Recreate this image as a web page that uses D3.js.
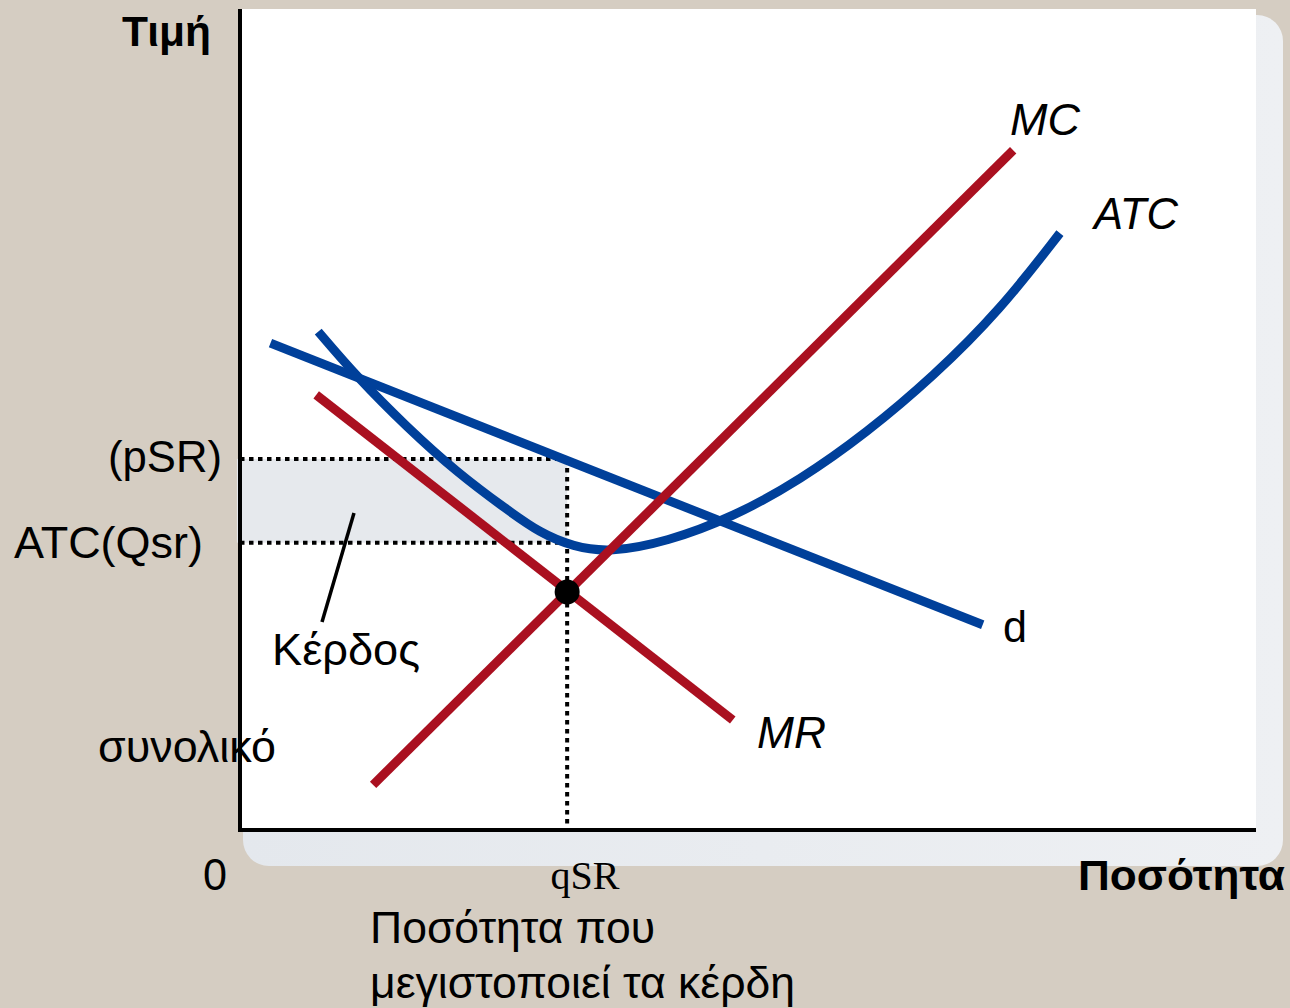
<!DOCTYPE html>
<html><head><meta charset="utf-8">
<script src="https://cdn.jsdelivr.net/npm/d3@7"></script>
<style>html,body{margin:0;padding:0;background:#d5cdc2;}svg{display:block;}</style>
</head><body>
<svg id="c" width="1290" height="1008"></svg>
<script>
// Data (chart units: quantity 0-10, price 0-10)
const mcX = [1.31, 7.61];
const mcY = [0.55, 8.28];
const mrX = [0.75, 4.85];
const mrY = [5.30, 1.34];
const dX = [0.30, 7.31];
const dY = [5.93, 2.50];
const atcX = [0.77, 1.15, 1.64, 2.14, 2.63, 2.95, 3.28, 3.64, 4.20, 4.85, 5.51, 6.17, 6.82, 7.48, 8.07];
const atcY = [6.07, 5.52, 4.91, 4.35, 3.90, 3.62, 3.45, 3.38, 3.51, 3.81, 4.26, 4.84, 5.52, 6.33, 7.27];
const qSR = 3.22;
const pSR = 4.52;
const atcQsr = 3.50;
const eqPrice = 2.90;
const curveLabels = ["MC", "ATC", "d", "MR"];

const svg = d3.select("#c");
const x = d3.scaleLinear().domain([0, 10]).range([240, 1256]);
const y = d3.scaleLinear().domain([0, 10]).range([830, 9]);

// background shadow panel
const defs = svg.append("defs");
const g = defs.append("linearGradient").attr("id","sh").attr("x1","0").attr("x2","1").attr("y1","0").attr("y2","0");
g.append("stop").attr("offset","0").attr("stop-color","#e4e8ed");
g.append("stop").attr("offset","1").attr("stop-color","#eef0f3");
svg.append("rect").attr("x",243).attr("y",15).attr("width",1040).attr("height",851).attr("rx",26).attr("fill","url(#sh)");
svg.append("rect").attr("x",240).attr("y",9).attr("width",1016).attr("height",821).attr("fill","#ffffff");

// profit rectangle
svg.append("rect").attr("x",x(-0.03)).attr("y",y(pSR)).attr("width",x(qSR)-x(-0.03)).attr("height",y(atcQsr)-y(pSR)).attr("fill","#e6e9ed");

// dotted lines
function dl(x1,y1,x2,y2){svg.append("line").attr("x1",x1).attr("y1",y1).attr("x2",x2).attr("y2",y2)
  .attr("stroke","#000").attr("stroke-width",4).attr("stroke-dasharray","4.5,4.5");}
dl(x(0),y(pSR),x(qSR),y(pSR));
dl(x(0),y(atcQsr),x(qSR),y(atcQsr));
dl(x(qSR),y(pSR),x(qSR),y(0));

const line = d3.line().x(d=>x(d[0])).y(d=>y(d[1]));
const red = "#aa1020", blue = "#00409a", W = 9;
svg.append("path").attr("d",line(d3.zip(dX,dY))).attr("stroke",blue).attr("stroke-width",W).attr("fill","none");
svg.append("path").attr("d",d3.line().x(d=>x(d[0])).y(d=>y(d[1])).curve(d3.curveBasis)(d3.zip(atcX,atcY))).attr("stroke",blue).attr("stroke-width",W).attr("fill","none");
svg.append("path").attr("d",line(d3.zip(mrX,mrY))).attr("stroke",red).attr("stroke-width",W).attr("fill","none");
svg.append("path").attr("d",line(d3.zip(mcX,mcY))).attr("stroke",red).attr("stroke-width",W).attr("fill","none");

svg.append("circle").attr("cx",x(qSR)).attr("cy",y(eqPrice)).attr("r",12.5).attr("fill","#000");

// pointer line
svg.append("line").attr("x1",354).attr("y1",513).attr("x2",322).attr("y2",622).attr("stroke","#000").attr("stroke-width",3.5);

// axes
svg.append("line").attr("x1",x(0)).attr("y1",9).attr("x2",x(0)).attr("y2",y(0)+2).attr("stroke","#000").attr("stroke-width",4);
svg.append("line").attr("x1",x(0)-2).attr("y1",y(0)).attr("x2",1256).attr("y2",y(0)).attr("stroke","#000").attr("stroke-width",4);

const F = "'Liberation Sans', Arial, sans-serif";
function t(txt, xx, yy, len, opts={}){
  const el = svg.append("text").attr("x",xx).attr("y",yy).text(txt)
    .attr("font-family",opts.family||F).attr("font-size",opts.size||44)
    .attr("font-weight",opts.weight||"normal").attr("font-style",opts.style||"normal")
    .attr("text-anchor",opts.anchor||"start").attr("fill","#000");
  if (len) el.attr("textLength",len).attr("lengthAdjust","spacingAndGlyphs");
  return el;
}
t("Τιμή",211,46,89,{weight:"bold",anchor:"end",size:43});
t(curveLabels[0],1010,135,70,{style:"italic"});
t(curveLabels[1],1094,229,84,{style:"italic"});
t(curveLabels[2],1003,642,24);
t(curveLabels[3],757,748,69,{style:"italic"});
t("(pSR)",222,472,114,{anchor:"end"});
t("ATC(Qsr)",203,558,189,{anchor:"end"});
t("Κέρδος",272,665,148);
t("συνολικό",98,762,178);
t("0",203,890,24);
t("qSR",585,889,69,{family:"'Liberation Serif', 'Times New Roman', serif",anchor:"middle",size:40});
t("Ποσότητα",1285,890,207,{weight:"bold",anchor:"end",size:43});
t("Ποσότητα που",370,943,285);
t("μεγιστοποιεί τα κέρδη",370,998,425);
</script>
</body></html>
